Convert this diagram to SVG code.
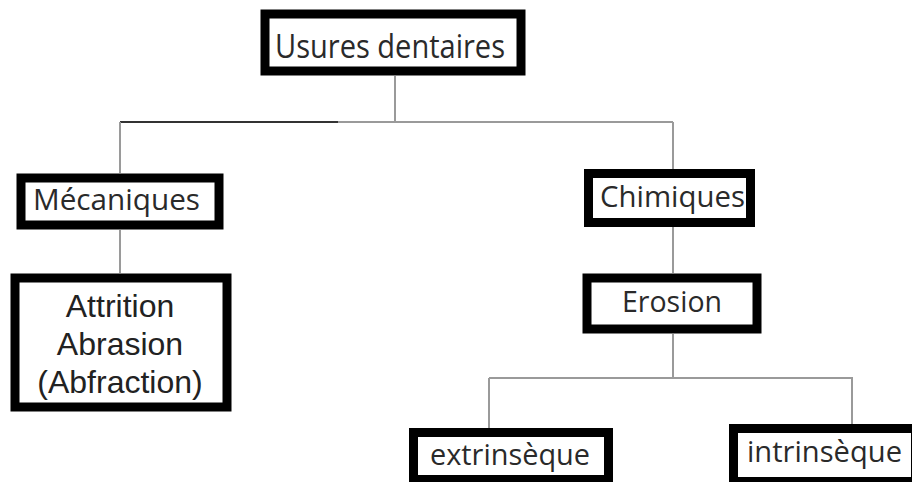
<svg xmlns="http://www.w3.org/2000/svg" width="912" height="482" viewBox="0 0 912 482">
<style>
.box{fill:#fff;stroke:#000;stroke-width:9}
.lbl{font-family:"Open Sans","Noto Sans",sans-serif;fill:#2a2a2a}
.arial{font-family:"Liberation Sans",Arial,sans-serif;fill:#222;font-size:32px;text-anchor:middle}
.ln{stroke:#9a9a9a;stroke-width:2;fill:none}
</style>
<rect width="912" height="482" fill="#fff"/>
<g id="connectors">
<line class="ln" x1="395" y1="76" x2="395" y2="122"/>
<line class="ln" x1="120" y1="122" x2="673" y2="122"/>
<line x1="120" y1="122" x2="338" y2="122" stroke="#333" stroke-width="2"/>
<line class="ln" x1="120" y1="122" x2="120" y2="173"/>
<line class="ln" x1="673" y1="122" x2="673" y2="169"/>
<line class="ln" x1="120" y1="230" x2="120" y2="273"/>
<line class="ln" x1="673" y1="227" x2="673" y2="273"/>
<line class="ln" x1="673" y1="334" x2="673" y2="378"/>
<line class="ln" x1="489" y1="378" x2="853" y2="378"/>
<line class="ln" x1="489" y1="378" x2="489" y2="428"/>
<line class="ln" x1="852" y1="378" x2="852" y2="424"/>
</g>
<g id="usures">
<rect class="box" x="265" y="14" width="256" height="57"/>
<text class="lbl" x="275" y="58" font-size="32" textLength="230" lengthAdjust="spacingAndGlyphs">Usures dentaires</text>
</g>
<g id="mecaniques">
<rect class="box" x="21" y="178" width="198" height="47"/>
<text class="lbl" x="33" y="210" font-size="30" textLength="167" lengthAdjust="spacingAndGlyphs">Mécaniques</text>
</g>
<g id="attrition">
<rect class="box" x="15" y="278" width="212" height="129"/>
<text class="arial" x="120" y="317">Attrition</text>
<text class="arial" x="120" y="355">Abrasion</text>
<text class="arial" x="120" y="393">(Abfraction)</text>
</g>
<g id="chimiques">
<rect class="box" x="588.5" y="173.5" width="162" height="49"/>
<text class="lbl" x="600" y="207" font-size="30" textLength="145" lengthAdjust="spacingAndGlyphs">Chimiques</text>
</g>
<g id="erosion">
<rect class="box" x="587" y="278" width="170" height="51"/>
<text class="lbl" x="622" y="312" font-size="29" textLength="100" lengthAdjust="spacingAndGlyphs">Erosion</text>
</g>
<g id="extrinseque">
<rect class="box" x="413.5" y="432.5" width="195" height="47"/>
<text class="lbl" x="430" y="465" font-size="29" textLength="160" lengthAdjust="spacingAndGlyphs">extrinsèque</text>
</g>
<g id="intrinseque">
<rect class="box" x="733.5" y="428.5" width="182" height="53"/>
<text class="lbl" x="747" y="462" font-size="29" textLength="155" lengthAdjust="spacingAndGlyphs">intrinsèque</text>
</g>
</svg>
